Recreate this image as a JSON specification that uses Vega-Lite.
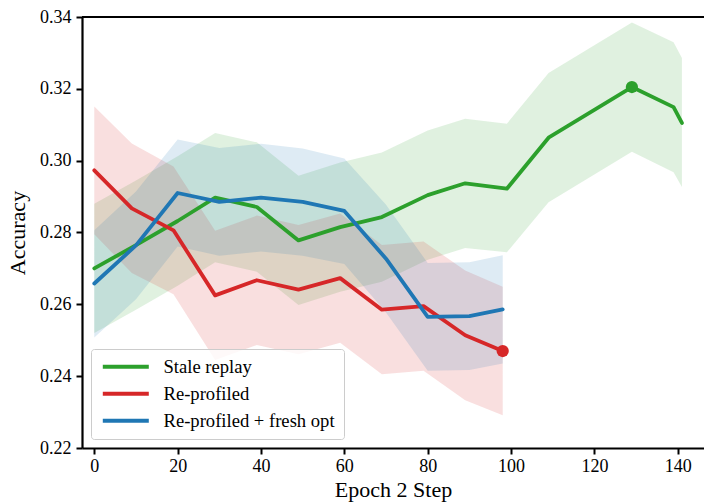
{
  "$schema": "https://vega.github.io/schema/vega-lite/v6.json",
  "width": 622,
  "height": 431,
  "autosize": {"type": "none"},
  "padding": {"left": 82, "top": 17, "right": 0, "bottom": 54},
  "background": "white",
  "config": {
    "font": "Liberation Serif",
    "view": {"stroke": null},
    "axis": {
      "domainColor": "black",
      "domainWidth": 2.2,
      "tickColor": "black",
      "tickWidth": 2,
      "tickSize": 6,
      "labelFont": "Liberation Serif",
      "labelFontSize": 18,
      "labelColor": "black",
      "labelFlush": false,
      "titleFont": "Liberation Serif",
      "titleFontSize": 22,
      "titleFontWeight": "normal",
      "titleColor": "black",
      "grid": false
    },
    "axisX": {"labelPadding": 3, "titlePadding": 4},
    "axisY": {"labelPadding": 5, "titlePadding": 10},
    "legend": {
      "symbolType": "M-4.6,0L4.6,0",
      "symbolSize": 100,
      "symbolStrokeWidth": 4,
      "symbolStrokeCap": "round",
      "symbolOpacity": 1,
      "symbolOffset": 17,
      "rowPadding": 8,
      "labelFont": "Liberation Serif",
      "labelFontSize": 18.6,
      "labelColor": "black",
      "labelLimit": 400,
      "labelOffset": 28.4,
      "padding": 8.5,
      "fillColor": "rgba(255,255,255,0.8)",
      "strokeColor": "#cccccc",
      "cornerRadius": 3
    }
  },
  "datasets": {
    "curves": [
      {"series": "Stale replay", "step": 0, "mean": 0.2700, "lo": 0.2520, "hi": 0.2880},
      {"series": "Stale replay", "step": 10, "mean": 0.2765, "lo": 0.2585, "hi": 0.2945},
      {"series": "Stale replay", "step": 20, "mean": 0.2832, "lo": 0.2652, "hi": 0.3012},
      {"series": "Stale replay", "step": 29, "mean": 0.2897, "lo": 0.2717, "hi": 0.3077},
      {"series": "Stale replay", "step": 39, "mean": 0.2871, "lo": 0.2691, "hi": 0.3051},
      {"series": "Stale replay", "step": 49, "mean": 0.2778, "lo": 0.2598, "hi": 0.2958},
      {"series": "Stale replay", "step": 59, "mean": 0.2815, "lo": 0.2635, "hi": 0.2995},
      {"series": "Stale replay", "step": 69, "mean": 0.2843, "lo": 0.2663, "hi": 0.3023},
      {"series": "Stale replay", "step": 80, "mean": 0.2904, "lo": 0.2724, "hi": 0.3084},
      {"series": "Stale replay", "step": 89, "mean": 0.2937, "lo": 0.2757, "hi": 0.3117},
      {"series": "Stale replay", "step": 99, "mean": 0.2922, "lo": 0.2745, "hi": 0.3103},
      {"series": "Stale replay", "step": 109, "mean": 0.3064, "lo": 0.2884, "hi": 0.3244},
      {"series": "Stale replay", "step": 129, "mean": 0.3205, "lo": 0.3025, "hi": 0.3385},
      {"series": "Stale replay", "step": 139, "mean": 0.3149, "lo": 0.2968, "hi": 0.3330},
      {"series": "Stale replay", "step": 141, "mean": 0.3105, "lo": 0.2927, "hi": 0.3286},

      {"series": "Re-profiled", "step": 0, "mean": 0.2973, "lo": 0.2795, "hi": 0.3151},
      {"series": "Re-profiled", "step": 9, "mean": 0.2867, "lo": 0.2687, "hi": 0.3048},
      {"series": "Re-profiled", "step": 19, "mean": 0.2806, "lo": 0.2628, "hi": 0.2984},
      {"series": "Re-profiled", "step": 29, "mean": 0.2625, "lo": 0.2445, "hi": 0.2805},
      {"series": "Re-profiled", "step": 39, "mean": 0.2667, "lo": 0.2487, "hi": 0.2847},
      {"series": "Re-profiled", "step": 49, "mean": 0.2641, "lo": 0.2461, "hi": 0.2821},
      {"series": "Re-profiled", "step": 59, "mean": 0.2673, "lo": 0.2493, "hi": 0.2853},
      {"series": "Re-profiled", "step": 69, "mean": 0.2585, "lo": 0.2405, "hi": 0.2765},
      {"series": "Re-profiled", "step": 79, "mean": 0.2595, "lo": 0.2415, "hi": 0.2775},
      {"series": "Re-profiled", "step": 89, "mean": 0.2514, "lo": 0.2333, "hi": 0.2694},
      {"series": "Re-profiled", "step": 98, "mean": 0.2470, "lo": 0.2291, "hi": 0.2649},

      {"series": "Re-profiled + fresh opt", "step": 0, "mean": 0.2658, "lo": 0.2508, "hi": 0.2806},
      {"series": "Re-profiled + fresh opt", "step": 10, "mean": 0.2764, "lo": 0.2614, "hi": 0.2914},
      {"series": "Re-profiled + fresh opt", "step": 20, "mean": 0.2910, "lo": 0.2761, "hi": 0.3059},
      {"series": "Re-profiled + fresh opt", "step": 30, "mean": 0.2885, "lo": 0.2735, "hi": 0.3035},
      {"series": "Re-profiled + fresh opt", "step": 40, "mean": 0.2897, "lo": 0.2747, "hi": 0.3047},
      {"series": "Re-profiled + fresh opt", "step": 50, "mean": 0.2885, "lo": 0.2735, "hi": 0.3034},
      {"series": "Re-profiled + fresh opt", "step": 60, "mean": 0.2860, "lo": 0.2712, "hi": 0.3006},
      {"series": "Re-profiled + fresh opt", "step": 70, "mean": 0.2727, "lo": 0.2577, "hi": 0.2877},
      {"series": "Re-profiled + fresh opt", "step": 80, "mean": 0.2565, "lo": 0.2415, "hi": 0.2715},
      {"series": "Re-profiled + fresh opt", "step": 90, "mean": 0.2567, "lo": 0.2417, "hi": 0.2717},
      {"series": "Re-profiled + fresh opt", "step": 98, "mean": 0.2586, "lo": 0.2435, "hi": 0.2737}
    ],
    "highlights": [
      {"series": "Stale replay", "step": 129, "mean": 0.3205},
      {"series": "Re-profiled", "step": 98, "mean": 0.2470}
    ],
    "frame": [{"top": 0.34}]
  },
  "layer": [
    {
      "data": {"name": "curves"},
      "mark": {"type": "area", "opacity": 0.15, "clip": true},
      "encoding": {
        "x": {"field": "step", "type": "quantitative", "title": "Epoch 2 Step",
              "scale": {"domain": [-2.95, 146.3], "nice": false, "zero": false},
              "axis": {"values": [0, 20, 40, 60, 80, 100, 120, 140]}},
        "y": {"field": "lo", "type": "quantitative", "title": "Accuracy",
              "scale": {"domain": [0.22, 0.34], "nice": false, "zero": false},
              "axis": {"values": [0.22, 0.24, 0.26, 0.28, 0.30, 0.32, 0.34], "format": ".2f"}},
        "y2": {"field": "hi"},
        "color": {"field": "series", "type": "nominal", "title": null,
                  "scale": {"domain": ["Stale replay", "Re-profiled", "Re-profiled + fresh opt"],
                            "range": ["#2ca02c", "#d62728", "#1f77b4"]}}
      }
    },
    {
      "data": {"name": "curves"},
      "mark": {"type": "line", "strokeWidth": 3.8, "strokeCap": "round", "strokeJoin": "round", "clip": true},
      "encoding": {
        "x": {"field": "step", "type": "quantitative", "title": "Epoch 2 Step"},
        "y": {"field": "mean", "type": "quantitative", "title": "Accuracy"},
        "color": {
          "field": "series", "type": "nominal", "title": null,
          "legend": {"orient": "none", "legendX": 9, "legendY": 332}
        }
      }
    },
    {
      "data": {"name": "highlights"},
      "mark": {"type": "circle", "size": 150, "opacity": 1},
      "encoding": {
        "x": {"field": "step", "type": "quantitative", "title": "Epoch 2 Step"},
        "y": {"field": "mean", "type": "quantitative", "title": "Accuracy"},
        "color": {"field": "series", "type": "nominal", "title": null}
      }
    },
    {
      "data": {"name": "frame"},
      "mark": {"type": "rule", "color": "black", "strokeWidth": 2.2},
      "encoding": {
        "y": {"field": "top", "type": "quantitative", "title": "Accuracy"}
      }
    }
  ]
}
